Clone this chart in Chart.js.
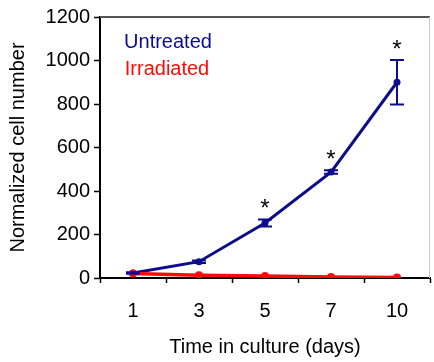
<!DOCTYPE html>
<html>
<head>
<meta charset="utf-8">
<script src="https://cdn.jsdelivr.net/npm/chart.js@4/dist/chart.umd.min.js"></script>
<style>
  html, body { margin: 0; padding: 0; background: #fff; }
  #wrap { width: 434px; height: 362px; }
</style>
</head>
<body>
<div id="wrap"><canvas id="cellChart" width="434" height="362"></canvas></div>
<script>
// data
const days = ['1', '3', '5', '7', '10'];
const untreated = [23, 75, 253, 487, 900];
const untreatedErr = [4, 6, 16, 8, 102];
const irradiated = [21, 13, 9, 5, 2];
const significant = [false, false, true, true, true];
const yTicks = [0, 200, 400, 600, 800, 1000, 1200];

const BLUE = '#0c0c8c';
const RED = '#ff0a0a';
const FONT = "'Liberation Sans', Arial, sans-serif";
const FSIZE = 20;

// error bars, asterisks, legend text and the plot frame
const extras = {
    id: 'extras',
    afterDatasetsDraw(chart) {
        const ctx = chart.ctx;
        const x = chart.scales.x;
        const y = chart.scales.y;
        const area = chart.chartArea;

        ctx.save();
        // frame on top and right
        ctx.strokeStyle = '#555';
        ctx.lineWidth = 2;
        ctx.beginPath();
        ctx.moveTo(area.left, area.top);
        ctx.lineTo(area.right, area.top);
        ctx.stroke();
        ctx.strokeStyle = '#ccc';
        ctx.lineWidth = 1;
        ctx.beginPath();
        ctx.moveTo(area.right - 0.5, area.top);
        ctx.lineTo(area.right - 0.5, area.bottom);
        ctx.stroke();

        // error bars for untreated
        ctx.strokeStyle = BLUE;
        ctx.lineWidth = 2;
        untreated.forEach((v, i) => {
            const px = x.getPixelForValue(i);
            const top = y.getPixelForValue(v + untreatedErr[i]);
            const bot = y.getPixelForValue(v - untreatedErr[i]);
            ctx.beginPath();
            ctx.moveTo(px, top);
            ctx.lineTo(px, bot);
            ctx.moveTo(px - 7, top);
            ctx.lineTo(px + 7, top);
            ctx.moveTo(px - 7, bot);
            ctx.lineTo(px + 7, bot);
            ctx.stroke();
        });

        // asterisks
        ctx.fillStyle = '#000';
        ctx.font = '24px ' + FONT;
        ctx.textAlign = 'center';
        ctx.textBaseline = 'middle';
        significant.forEach((s, i) => {
            if (!s) return;
            const px = x.getPixelForValue(i);
            const top = y.getPixelForValue(untreated[i] + untreatedErr[i]);
            ctx.fillText('*', px, top - 10);
        });

        // legend text
        ctx.font = FSIZE + 'px ' + FONT;
        ctx.fillStyle = BLUE;
        ctx.fillText('Untreated', 168, 42);
        ctx.fillStyle = RED;
        ctx.fillText('Irradiated', 167, 69);
        ctx.restore();
    }
};

const ctx = document.getElementById('cellChart').getContext('2d');
const cellChart = new Chart(ctx, {
    type: 'line',
    data: {
        labels: days,
        datasets: [
            {
                label: 'Irradiated',
                data: irradiated,
                borderColor: RED,
                backgroundColor: RED,
                borderWidth: 3.5,
                pointRadius: 4,
                pointBorderWidth: 0,
                tension: 0
            },
            {
                label: 'Untreated',
                data: untreated,
                borderColor: BLUE,
                backgroundColor: BLUE,
                borderWidth: 3,
                pointRadius: 3.5,
                pointBorderWidth: 0,
                tension: 0
            }
        ]
    },
    options: {
        responsive: false,
        animation: false,
        devicePixelRatio: 1,
        layout: { padding: { top: 17, right: 1, left: 0, bottom: 0 } },
        plugins: {
            legend: { display: false },
            tooltip: { enabled: false }
        },
        scales: {
            x: {
                offset: true,
                grid: {
                    offset: true,
                    drawOnChartArea: false,
                    color: '#000',
                    tickLength: 5,
                    tickWidth: 1.5
                },
                border: { color: '#000', width: 2 },
                ticks: {
                    color: '#000',
                    font: { family: FONT, size: FSIZE },
                    padding: 16,
                    maxRotation: 0
                },
                title: {
                    display: true,
                    text: 'Time in culture (days)',
                    color: '#000',
                    font: { family: FONT, size: FSIZE },
                    padding: { top: 0, bottom: 3 }
                },
                afterFit(scale) { scale.height = 84; }
            },
            y: {
                min: 0,
                max: 1200,
                afterBuildTicks(scale) {
                    scale.ticks = yTicks.map(v => ({ value: v }));
                },
                grid: {
                    drawOnChartArea: false,
                    color: '#000',
                    tickLength: 6,
                    tickWidth: 1.5
                },
                border: { color: '#000', width: 2 },
                ticks: {
                    color: '#000',
                    font: { family: FONT, size: FSIZE },
                    padding: 4,
                    callback: v => String(v)
                },
                title: {
                    display: true,
                    text: 'Normalized cell number',
                    color: '#000',
                    font: { family: FONT, size: FSIZE },
                    padding: { top: 6, bottom: 0 }
                },
                afterFit(scale) { scale.width = 100; }
            }
        }
    },
    plugins: [extras]
});
</script>
</body>
</html>
